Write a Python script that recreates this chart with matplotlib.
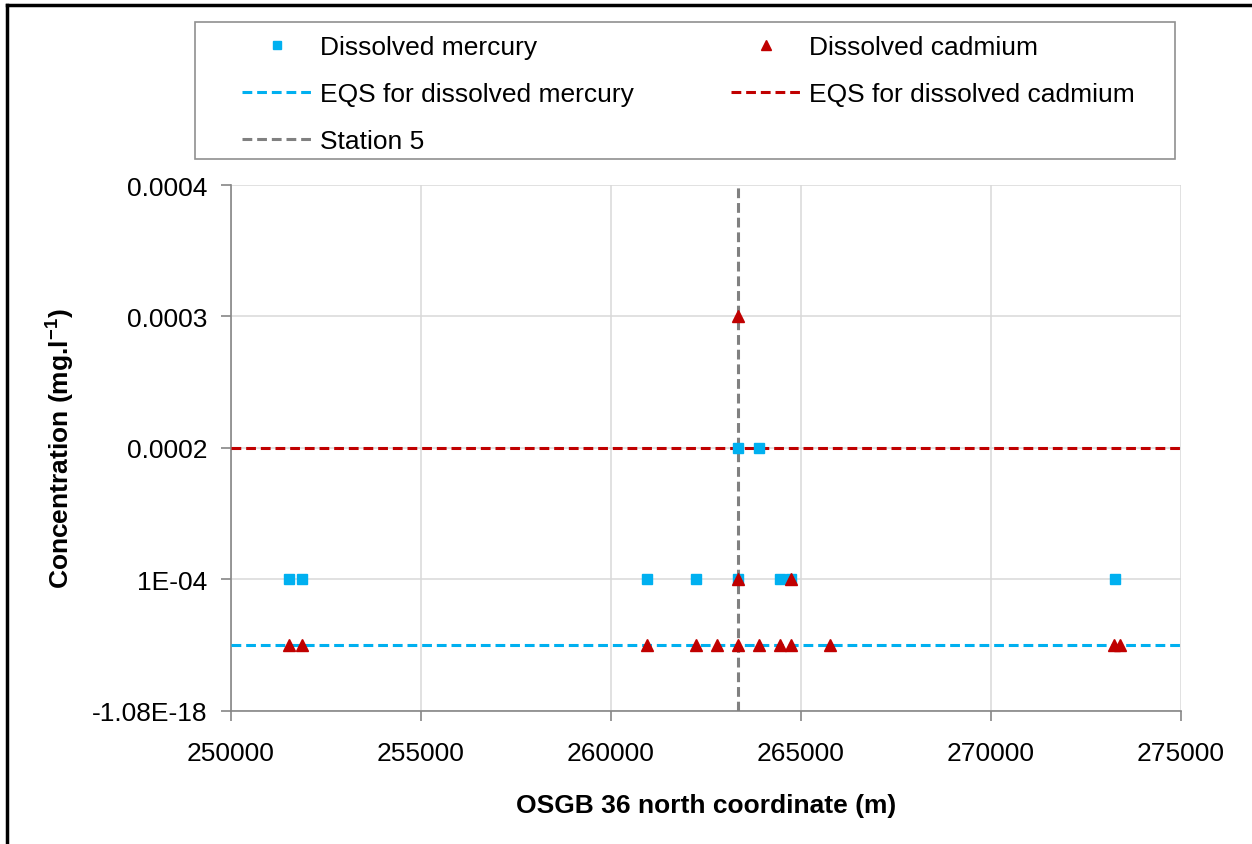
import matplotlib
matplotlib.use("Agg")
import matplotlib.pyplot as plt
from matplotlib.lines import Line2D
from matplotlib.patches import Rectangle

# station north coordinates (m) and dissolved concentrations (mg/l)
hg_x = [251515, 251870, 260943, 262234, 263338, 264452, 264745, 273260, 263338, 263902]
hg_y = [0.0001, 0.0001, 0.0001, 0.0001, 0.0001, 0.0001, 0.0001, 0.0001, 0.0002, 0.0002]
cd_x = [251515, 251870, 260943, 262234, 262795, 263338, 263902, 264452, 264745, 265754,
        273243, 273393, 263338, 264745, 263338]
cd_y = [0.00005] * 12 + [0.0001, 0.0001, 0.0003]
eqs_hg = 0.00005
eqs_cd = 0.0002
station5_x = 263338

x_ticks = [250000, 255000, 260000, 265000, 270000, 275000]
y_ticks = [-1.08e-18, 0.0001, 0.0002, 0.0003, 0.0004]
y_ticklabels = ["-1.08E-18", "1E-04", "0.0002", "0.0003", "0.0004"]

plt.rcParams["font.family"] = ["Liberation Sans", "DejaVu Sans"]
plt.rcParams["mathtext.fontset"] = "custom"
plt.rcParams["mathtext.bf"] = "Liberation Sans:bold"
plt.rcParams["mathtext.rm"] = "Liberation Sans"

CYAN, RED, GREY = "#00B0F0", "#C00000", "#808080"
FS = 19
W, H = 1252, 845

fig = plt.figure(figsize=(W / 100, H / 100), dpi=100)
ax = fig.add_axes([231 / W, 1 - 712 / H, (1181 - 231) / W, (712 - 186) / H])

ax.plot(hg_x, hg_y, ls="none", marker="s", ms=6.5, color=CYAN, zorder=4, label="Dissolved mercury")
ax.axhline(eqs_hg, color=CYAN, lw=2.2, dashes=(3.2, 1.6), zorder=3, label="EQS for dissolved mercury")
ax.axvline(station5_x, color=GREY, lw=2.2, dashes=(3.2, 1.6), zorder=3, label="Station 5")
ax.plot(cd_x, cd_y, ls="none", marker="^", ms=8.5, color=RED, zorder=5, label="Dissolved cadmium")
ax.axhline(eqs_cd, color=RED, lw=2.2, dashes=(3.2, 1.6), zorder=3, label="EQS for dissolved cadmium")

ax.set_xlim(x_ticks[0], x_ticks[-1])
ax.set_ylim(y_ticks[0], y_ticks[-1])
ax.set_xticks(x_ticks)
ax.set_xticklabels([str(v) for v in x_ticks])
ax.set_yticks(y_ticks)
ax.set_yticklabels(y_ticklabels)
ax.tick_params(labelsize=FS, direction="out", length=7, color="#868686", width=1.2)
ax.tick_params(axis="x", pad=14.5)
ax.tick_params(axis="y", pad=10)
ax.grid(True, color="#d9d9d9", lw=1.1, zorder=0)
ax.set_axisbelow(True)
for s in ["top", "right"]:
    ax.spines[s].set_visible(False)
for s in ["left", "bottom"]:
    ax.spines[s].set_color("#868686")
    ax.spines[s].set_linewidth(1.2)

ax.set_xlabel("OSGB 36 north coordinate (m)", fontsize=FS, fontweight="bold", labelpad=20)
ax.set_ylabel(r"Concentration (mg.l$\mathbf{^{-1}}$)", fontsize=FS, fontweight="bold", labelpad=11)

# legend box drawn separately so the padding matches the original
fig.add_artist(Rectangle((195 / W, 1 - 160 / H), (1175 - 195) / W, (160 - 23) / H,
                         transform=fig.transFigure, fill=False, edgecolor="#909090", lw=1.2))
h, l = ax.get_legend_handles_labels()
leg = fig.legend(h, l, ncol=2, loc="upper left",
                 bbox_to_anchor=(242 / W, 1 - 36 / H),
                 fontsize=FS, frameon=False,
                 handlelength=2.65, handletextpad=0.3, labelspacing=0.87, borderaxespad=0,
                 borderpad=0, columnspacing=3.7, markerscale=0.8)

# outer chart frame (top and left edges only visible)
fig.add_artist(Line2D([7 / W, 7 / W], [0, 1 - 6 / H], transform=fig.transFigure, color="black", lw=2.5))
fig.add_artist(Line2D([7 / W, 1], [1 - 6 / H, 1 - 6 / H], transform=fig.transFigure, color="black", lw=2.5))

fig.savefig("out.png", dpi=100)
